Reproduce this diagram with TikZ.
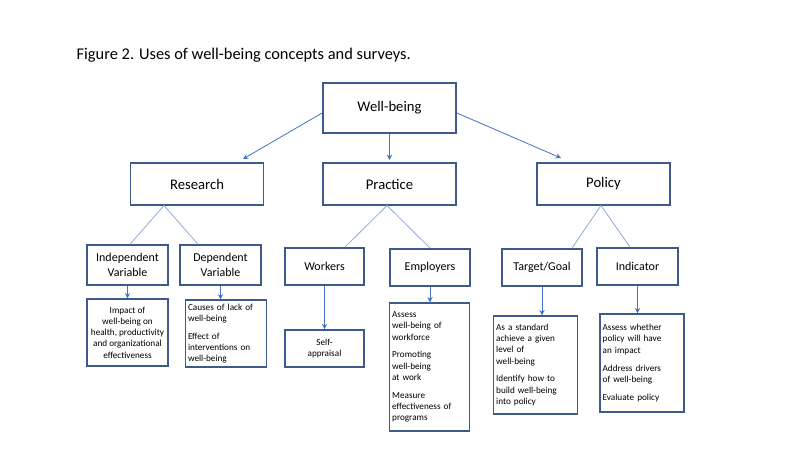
\documentclass[tikz,border=0pt]{standalone}
\usepackage{fontspec}
\setmainfont{Carlito}
\usetikzlibrary{arrows.meta, positioning}
\definecolor{boxline}{HTML}{3E5A8C}
\definecolor{linkline}{HTML}{8FAADC}
\definecolor{arrline}{HTML}{4472C4}

\begin{document}
\begin{tikzpicture}[x=0.75pt,y=-0.75pt,
  box/.style={draw=boxline,line width=1.1pt,inner sep=2pt,align=center},
  big/.style={box,font=\fontsize{11}{13}\selectfont},
  mid/.style={box,font=\fontsize{9}{11}\selectfont},
  leaf/.style={box,font=\fontsize{6.9}{8.4}\selectfont,align=left},
  link/.style={draw=linkline,line width=0.6pt},
  arr/.style={draw=arrline,line width=0.6pt,-{Stealth[length=4pt,width=4pt]}}]
 \useasboundingbox (0,0) rectangle (800,450);

 \node[anchor=west,font=\fontsize{12.3}{14}\selectfont] (title) at (72,55) {Figure 2. Uses of well-being concepts and surveys.};

 % top levels
 \node[big,minimum width=100pt,minimum height=37.5pt] (wb) at (389.5,108) {Well-being};
 \node[big,minimum width=100pt,minimum height=31.5pt] (res) at (197,184) {Research};
 \node[big,minimum width=100pt,minimum height=31.5pt] (pra) at (389.5,184) {Practice};
 \node[big,minimum width=100pt,minimum height=31.5pt] (pol) at (603.5,184) {Policy};

 % second level
 \node[mid,minimum width=61pt,minimum height=30pt] (iv) at (127.5,265) {Independent\\Variable};
 \node[mid,minimum width=61pt,minimum height=30pt] (dv) at (220.5,265) {Dependent\\Variable};
 \node[mid,minimum width=59pt,minimum height=28pt] (wk) at (324.5,266.5) {Workers};
 \node[mid,minimum width=60pt,minimum height=28pt] (em) at (430,267.5) {Employers};
 \node[mid,minimum width=60pt,minimum height=28pt] (tg) at (542,267.5) {Target/Goal};
 \node[mid,minimum width=61pt,minimum height=28pt] (ind) at (637.5,266.5) {Indicator};

 % leaves
 \node[leaf,align=center,minimum width=61pt,minimum height=50pt] (imp) at (127.5,332.5)
   {Impact of\\well-being on\\health, productivity\\and organizational\\effectiveness};
 \node[leaf,text width=57pt,minimum height=50pt] (cau) at (226,333.5)
   {Causes of lack of\\well-being\\[5pt]Effect of\\interventions  on\\well-being};
 \node[leaf,align=center,minimum width=59pt,minimum height=28pt] (sa) at (324.5,348.5) {Self-\\appraisal};
 \node[leaf,text width=56pt,minimum height=96pt] (ass) at (429.5,367)
   {Assess\\well-being of\\workforce\\[5pt]Promoting\\well-being\\at work\\[5pt]Measure\\effectiveness of\\programs};
 \node[leaf,text width=59pt,minimum height=73.5pt] (std) at (535.5,365)
   {As a standard\\achieve a given\\level of\\well-being\\[5pt]Identify how to\\build well-being\\into policy};
 \node[leaf,text width=59pt,minimum height=73.5pt] (aw) at (642,363)
   {Assess whether\\policy will have\\an impact\\[5pt]Address drivers\\of well-being\\[5pt]Evaluate policy};

 % connectors
 \coordinate (resTop) at (243,159);
 \coordinate (praTop) at (389.5,160);
 \coordinate (polTop) at (561,158);
 \path[arr] (wb.west |- 0,113) coordinate (wbL) (wbL) -- (resTop);
 \path[arr] (wb.south) -- (praTop);
 \path[arr] (wb.east |- 0,113) coordinate (wbR) (wbR) -- (polTop);

 \coordinate (resApex) at (164,205.5);
 \coordinate (praApex) at (387,205.5);
 \coordinate (polApex) at (601,205.5);
 \draw[link] (iv.north -| 130,0) -- (resApex) -- (dv.north -| 198,0);
 \draw[link] (wk.north -| 345,0) -- (praApex) -- (em.north -| 430,0);
 \draw[link] (tg.north -| 572,0) -- (polApex) -- (ind.north -| 630,0);

 \draw[arr] (iv.south) -- (imp.north);
 \draw[arr] (dv.south) -- (dv.south |- cau.north);
 \draw[arr] (wk.south) -- (sa.north);
 \draw[arr] (em.south) -- (em.south |- ass.north);
 \draw[arr] (tg.south) -- (tg.south |- std.north);
 \draw[arr] (ind.south) -- (ind.south |- aw.north);
\end{tikzpicture}
\end{document}
